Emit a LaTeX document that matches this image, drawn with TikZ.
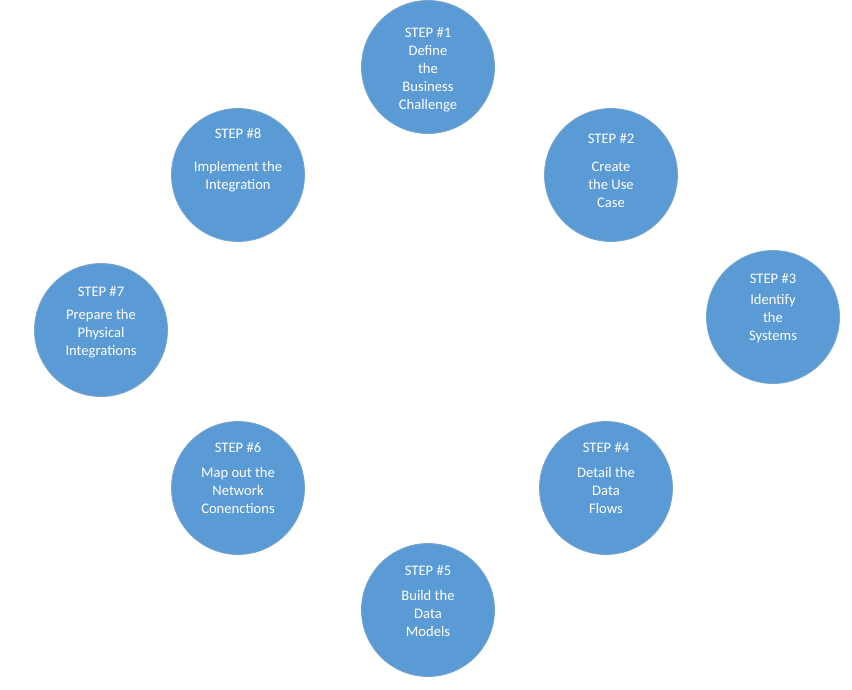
\documentclass[tikz,border=0pt]{standalone}
\usepackage{fontspec}
\setmainfont{Carlito}
\usepackage{tikz}
\usetikzlibrary{positioning}
\definecolor{stepblue}{RGB}{91,155,213}
\definecolor{stepedge}{RGB}{120,165,205}
\tikzset{
  disc/.style={circle, fill=stepblue, draw=stepedge, line width=0.8pt,
    minimum size=133pt, inner sep=0pt},
  steptxt/.style={text=white, align=center, inner sep=0pt,
    font=\fontsize{14.6pt}{18pt}\selectfont}
}

\begin{document}
\begin{tikzpicture}[x=1pt, y=-1pt]
\useasboundingbox (0,0) rectangle (852,689);
% ---- eight discs on a ring ----
\foreach \x/\y/\n in {428/67/1, 611/175/2, 773/317/3, 606/488/4,
                      428/610/5, 238/488/6, 101/330/7, 238/175/8}{
  \node[disc] (s\n) at (\x,\y) {};}
% ---- texts: header, gap, description ----
\foreach \n/\ty/\g/\t in {
  1/70/0/{Define\\the\\Business\\Challenge},
  2/171/10/{Create\\the Use\\Case},
  3/308.5/3/{Identify\\the\\Systems},
  4/478/7/{Detail the\\Data\\Flows},
  5/601.5/7/{Build the\\Data\\Models},
  6/478/7/{Map out the\\Network\\Conenctions},
  7/322/5/{Prepare the\\Physical\\Integrations},
  8/160/15/{Implement the\\Integration}}{
  \path (s\n.center) ++(0,0) coordinate (c\n);
  \node[steptxt] (t\n) at (c\n |- 0,\ty) {STEP \#\n\\[\g pt]\t};}
\end{tikzpicture}
\end{document}
